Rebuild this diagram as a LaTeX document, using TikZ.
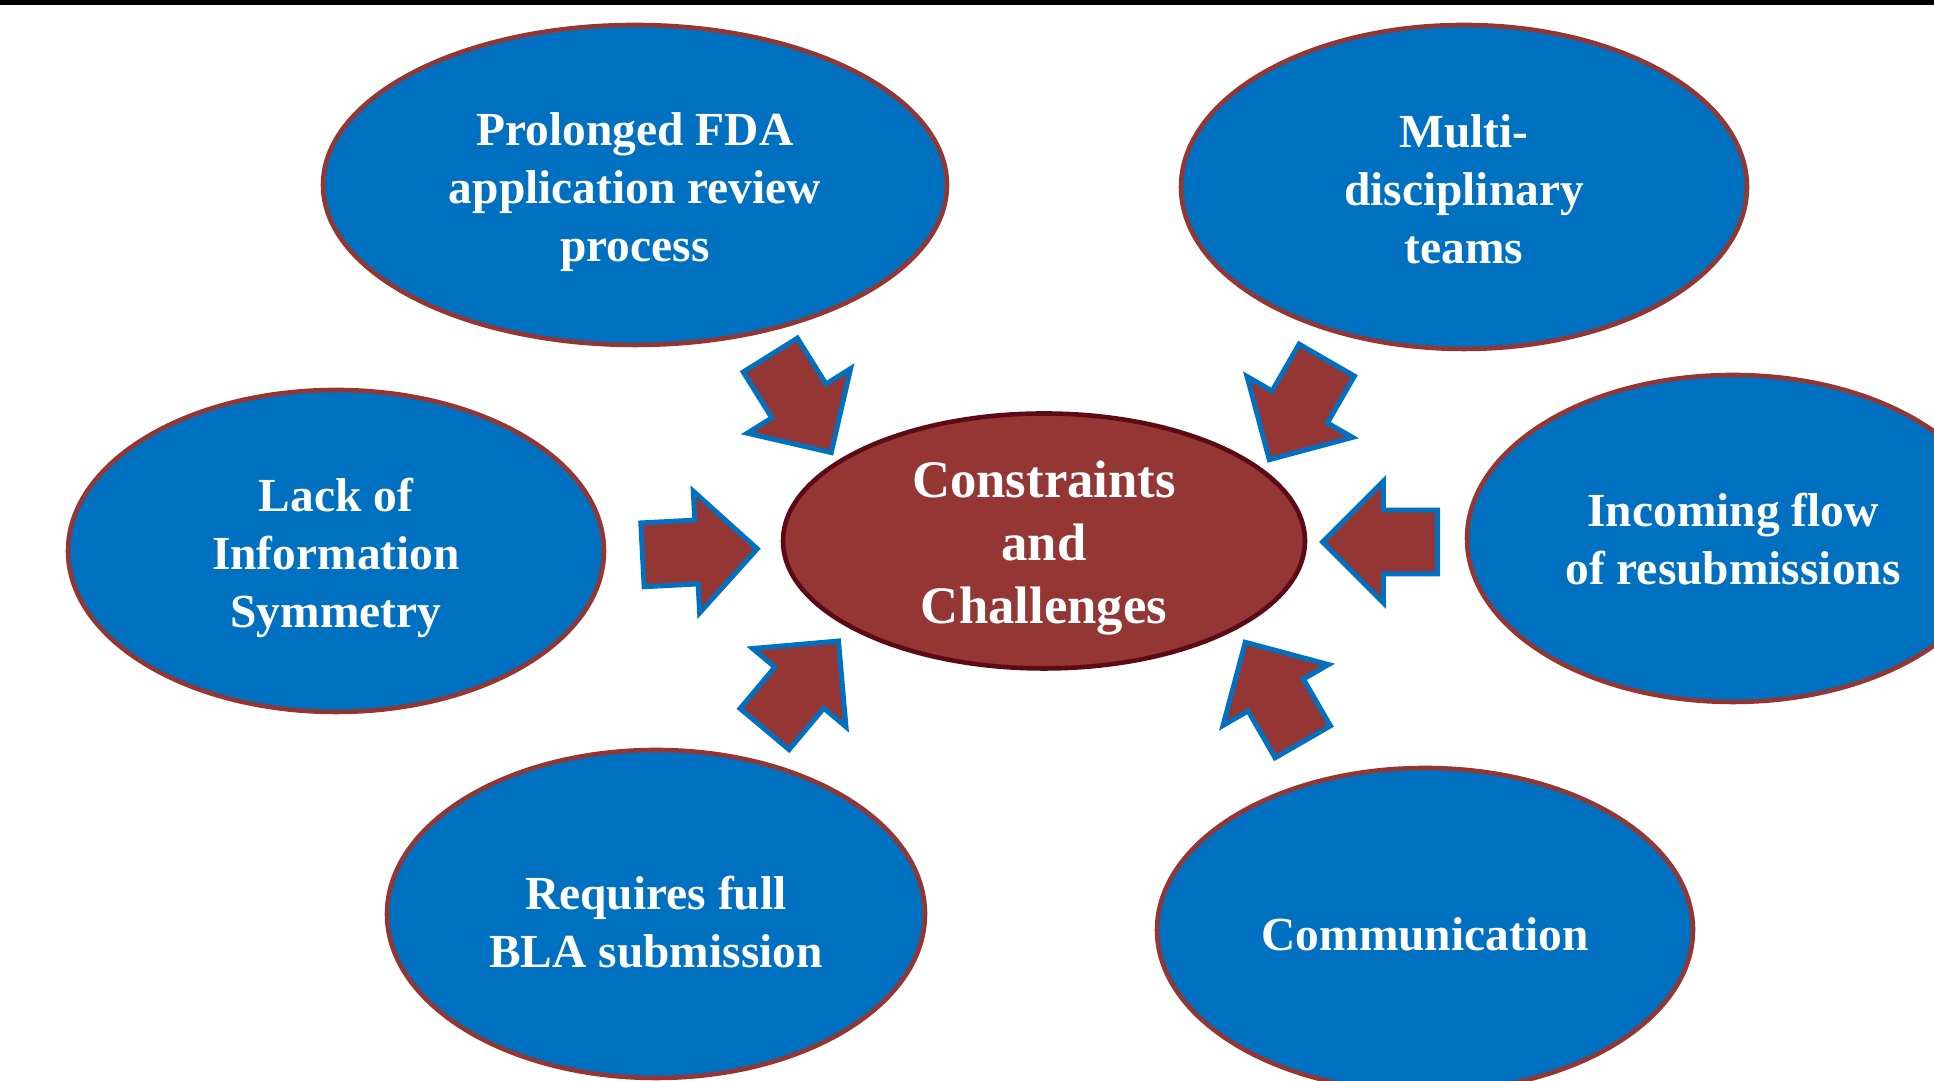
\documentclass[tikz,border=0pt]{standalone}
\usepackage{fontspec}
\setmainfont{Liberation Serif}
\usetikzlibrary{shapes.geometric, shapes.arrows}

\definecolor{boxblue}{HTML}{0070C0}
\definecolor{boxred}{HTML}{943634}
\definecolor{darkmaroon}{HTML}{5C0A14}

\begin{document}
\begin{tikzpicture}[
        cause/.style={ellipse, draw=boxred, line width=1.3pt, fill=boxblue},
        hub/.style={ellipse, draw=darkmaroon, line width=1.3pt, fill=boxred},
        caption/.style={text=white, align=center, yshift=-0.06cm,
            font=\bfseries\fontsize{13.5}{16.5}\selectfont},
        bigcaption/.style={caption, font=\bfseries\fontsize{15}{18}\selectfont},
        pointer/.style={single arrow, draw=boxblue, line width=1.4pt, fill=boxred,
            anchor=tail, minimum height=1.15cm, inner xsep=0pt, inner ysep=0.295cm,
            single arrow head extend=0.29cm, single arrow tip angle=90}
    ]
        \useasboundingbox[fill=white] (0,0) rectangle (19.34,10.81);

        % Thin black rule along the top
        \fill[black] (0,10.76) rectangle (19.34,10.81);

        % Centre ellipse
        \node[hub, minimum width=5.22cm, minimum height=2.55cm,
            label={[bigcaption, yshift=-0.01cm]center:Constraints\\and\\Challenges}] (core) at (10.44, 5.40) {};

        % Blue ellipses around it
        \node[cause, minimum width=6.24cm, minimum height=3.20cm,
            label={[caption, yshift=-0.01cm]center:Prolonged FDA\\application review\\process}] (review) at (6.35, 8.96) {};
        \node[cause, minimum width=5.66cm, minimum height=3.24cm,
            label={[caption, yshift=0.04cm]center:Multi-\\disciplinary\\teams}] (teams) at (14.64, 8.94) {};
        \node[cause, minimum width=5.36cm, minimum height=3.22cm,
            label={[caption, yshift=-0.01cm]center:Lack of\\Information\\Symmetry}] (info) at (3.36, 5.30) {};
        \node[cause, minimum width=5.32cm, minimum height=3.27cm,
            label={[caption, yshift=0.05cm]center:Incoming flow\\of resubmissions}] (resub) at (17.33, 5.425) {};
        \node[cause, minimum width=5.38cm, minimum height=3.28cm,
            label={[caption, yshift=-0.02cm]center:Requires full\\BLA submission}] (bla) at (6.56, 1.67) {};
        \node[cause, minimum width=5.36cm, minimum height=3.24cm,
            label={[caption, yshift=0.02cm]center:Communication}] (comm) at (14.25, 1.51) {};

        % Block arrows pointing at the centre
        \node[pointer, rotate=-58] (p-review) at (7.69, 7.28) {};
        \node[pointer, rotate=-120] (p-teams) at (13.28, 7.23) {};
        \node[pointer, rotate=3] (p-info) at (6.40, 5.26) {};
        \node[pointer, rotate=180] (p-resub) at (14.40, 5.39) {};
        \node[pointer, rotate=50] (p-bla) at (7.63, 3.50) {};
        \node[pointer, rotate=120] (p-comm) at (13.04, 3.37) {};
    \end{tikzpicture}
\end{document}
